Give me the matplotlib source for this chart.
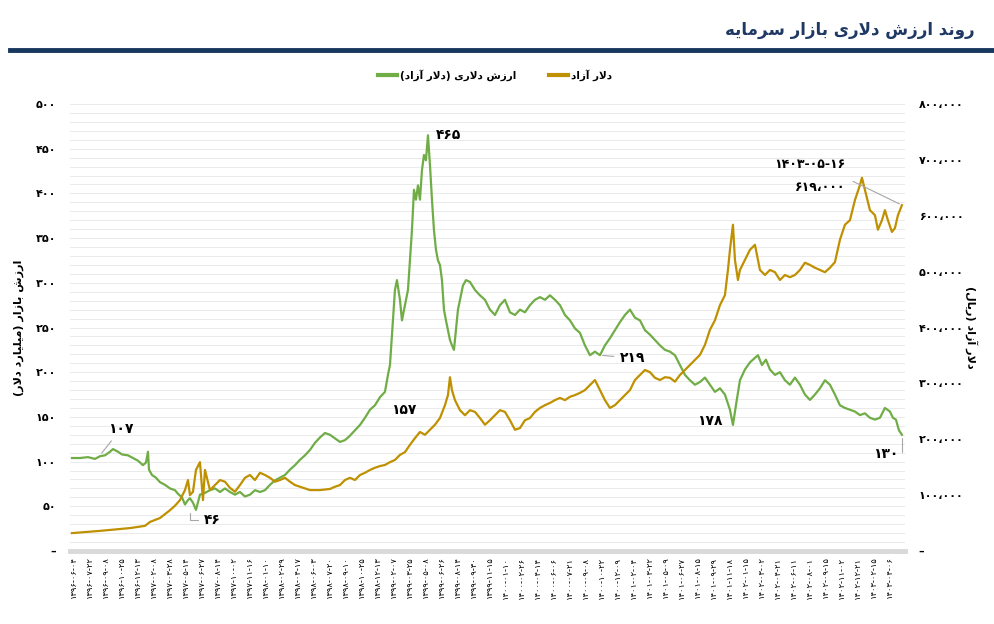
import matplotlib
matplotlib.use("Agg")
import matplotlib.pyplot as plt
from matplotlib.ticker import FuncFormatter, MultipleLocator
from matplotlib.lines import Line2D

# sample index (roughly every 3 calendar days) and values
green_t = [0, 8, 16, 23, 28, 33, 38, 41, 46, 50, 56, 61, 66, 71, 74, 76, 77, 80, 84, 88,
           93, 98, 103, 106, 110, 113, 116, 118, 121, 124, 128, 133, 138, 143, 148, 153, 158, 163, 168, 173,
           178, 183, 188, 193, 198, 203, 208, 213, 218, 223, 228, 233, 238, 243, 248, 253, 258, 263, 268, 273,
           278, 283, 288, 293, 298, 303, 308, 313, 316, 318, 321, 323, 325, 328, 330, 333, 336, 338, 340, 342,
           344, 346, 348, 350, 352, 354, 356, 358, 360, 362, 364, 366, 368, 370, 372, 374, 376, 378, 380, 382,
           384, 386, 388, 391, 394, 398, 403, 408, 413, 418, 423, 428, 433, 438, 443, 448, 453, 458, 463, 468,
           473, 478, 483, 488, 493, 498, 503, 508, 513, 518, 523, 528, 533, 538, 543, 548, 553, 558, 563, 568,
           573, 578, 583, 588, 593, 598, 603, 608, 613, 618, 623, 628, 633, 638, 643, 648, 653, 658, 661, 664,
           668, 673, 678, 683, 686, 690, 694, 698, 703, 708, 713, 718, 723, 728, 733, 738, 743, 748, 753, 758,
           763, 768, 773, 778, 783, 788, 793, 798, 803, 808, 813, 818, 821, 824, 827, 830]
green_val = [104, 104, 105, 103, 106, 107, 111, 114, 111, 108, 107, 104, 101, 96, 99, 111, 91, 85, 82, 77,
             74, 70, 68, 64, 60, 52, 57, 59, 54, 46, 63, 65, 68, 70, 66, 70, 66, 63, 66, 61,
             63, 68, 66, 68, 74, 79, 82, 85, 91, 96, 102, 107, 113, 121, 127, 132, 130, 126, 122, 124,
             129, 135, 141, 149, 158, 163, 172, 178, 197, 208, 258, 292, 303, 281, 258, 275, 292, 325, 359, 404,
             393, 409, 393, 426, 443, 437, 465, 432, 393, 359, 337, 325, 320, 303, 270, 258, 247, 236, 230, 225,
             247, 270, 281, 297, 303, 301, 292, 286, 281, 270, 264, 275, 281, 267, 264, 270, 267, 275, 281, 284,
             281, 286, 281, 275, 264, 258, 249, 244, 230, 219, 223, 219, 230, 238, 247, 256, 264, 270, 261, 258,
             247, 242, 236, 230, 225, 223, 219, 208, 197, 191, 186, 189, 194, 186, 178, 182, 175, 158, 141, 163,
             191, 203, 211, 216, 219, 208, 214, 203, 197, 200, 191, 186, 194, 186, 175, 169, 175, 182, 191, 186,
             175, 163, 160, 158, 156, 152, 154, 149, 147, 149, 160, 156, 149, 147, 135, 130]

gold_t = [0, 28, 58, 73, 78, 88, 98, 103, 108, 113, 116, 118, 121, 124, 128, 131, 133, 138, 143, 148,
          153, 158, 163, 168, 173, 178, 183, 188, 193, 198, 203, 208, 213, 218, 223, 228, 238, 248, 258, 263,
          268, 273, 278, 283, 288, 293, 298, 303, 308, 313, 318, 323, 328, 333, 338, 343, 348, 353, 358, 363,
          368, 373, 376, 378, 380, 383, 388, 393, 398, 403, 408, 413, 418, 423, 428, 433, 438, 443, 448, 453,
          458, 463, 468, 473, 478, 483, 488, 493, 498, 503, 508, 513, 518, 523, 528, 533, 538, 543, 548, 553,
          558, 563, 568, 573, 578, 583, 588, 593, 598, 603, 608, 613, 618, 623, 628, 633, 638, 643, 648, 653,
          656, 658, 661, 663, 666, 668, 673, 678, 683, 688, 693, 698, 703, 708, 713, 718, 723, 728, 733, 738,
          743, 748, 753, 758, 763, 768, 773, 778, 783, 788, 790, 793, 798, 803, 806, 810, 813, 816, 820, 823,
          826, 830]
gold_val = [32000, 36000, 41000, 45000, 52000, 59000, 73000, 81000, 91000, 109000, 127000, 100000, 106000, 145000, 159000, 91000, 145000, 109000, 118000, 127000,
            124000, 113000, 106000, 118000, 131000, 136000, 127000, 140000, 136000, 131000, 124000, 127000, 131000, 124000, 118000, 115000, 109000, 109000, 111000, 115000,
            118000, 127000, 131000, 127000, 136000, 140000, 145000, 149000, 152000, 154000, 159000, 163000, 172000, 177000, 190000, 202000, 213000, 208000, 217000, 226000,
            238000, 261000, 279000, 311000, 288000, 270000, 252000, 243000, 252000, 249000, 238000, 226000, 234000, 243000, 252000, 249000, 234000, 217000, 220000, 234000,
            238000, 249000, 256000, 261000, 265000, 270000, 274000, 270000, 276000, 279000, 283000, 288000, 297000, 306000, 288000, 270000, 256000, 261000, 270000, 279000,
            288000, 306000, 315000, 324000, 320000, 310000, 306000, 311000, 310000, 303000, 315000, 324000, 333000, 342000, 351000, 369000, 396000, 413000, 440000, 458000,
            503000, 539000, 584000, 521000, 485000, 503000, 521000, 539000, 548000, 503000, 494000, 503000, 499000, 485000, 494000, 490000, 494000, 503000, 516000, 512000,
            507000, 503000, 499000, 507000, 517000, 557000, 584000, 592000, 628000, 655000, 668000, 646000, 610000, 601000, 575000, 592000, 610000, 592000, 571000, 578000,
            601000, 619000]

date_labels = ["1396-06-04", "1396-07-22", "1396-09-08", "1396-10-25", "1396-12-13", "1397-02-08",
               "1397-03-28", "1397-05-14", "1397-06-27", "1397-08-14", "1397-10-02", "1397-11-16",
               "1398-01-10", "1398-02-29", "1398-04-17", "1398-06-03", "1398-07-20", "1398-09-10",
               "1398-10-25", "1398-12-13", "1399-02-07", "1399-03-25", "1399-05-08", "1399-06-26",
               "1399-08-14", "1399-09-30", "1399-11-15", "1400-01-10", "1400-02-26", "1400-04-14",
               "1400-06-06", "1400-07-21", "1400-09-08", "1400-10-22", "1400-12-09", "1401-02-04",
               "1401-03-22", "1401-05-09", "1401-06-27", "1401-08-15", "1401-09-29", "1401-11-18",
               "1402-01-15", "1402-03-02", "1402-04-21", "1402-06-11", "1402-08-01", "1402-09-15",
               "1402-11-02", "1402-12-21", "1403-02-15", "1403-04-06"]
last_date = "1403-05-16"

GREEN = "#70AD47"
GOLD = "#BF9000"
NAVY = "#17375E"

# --- minimal Persian shaping (matplotlib has no complex text layout) ---
FORMS = {  # isolated, final, initial, medial
    "ا": ("\uFE8D", "\uFE8E", None, None),
    "آ": ("\uFE81", "\uFE82", None, None),
    "ب": ("\uFE8F", "\uFE90", "\uFE91", "\uFE92"),
    "د": ("\uFEA9", "\uFEAA", None, None),
    "ر": ("\uFEAD", "\uFEAE", None, None),
    "ز": ("\uFEAF", "\uFEB0", None, None),
    "س": ("\uFEB1", "\uFEB2", "\uFEB3", "\uFEB4"),
    "ش": ("\uFEB5", "\uFEB6", "\uFEB7", "\uFEB8"),
    "ل": ("\uFEDD", "\uFEDE", "\uFEDF", "\uFEE0"),
    "م": ("\uFEE1", "\uFEE2", "\uFEE3", "\uFEE4"),
    "ن": ("\uFEE5", "\uFEE6", "\uFEE7", "\uFEE8"),
    "و": ("\uFEED", "\uFEEE", None, None),
    "ه": ("\uFEE9", "\uFEEA", "\uFEEB", "\uFEEC"),
    "ی": ("\uFEEF", "\uFEF0", "\uFEF3", "\uFEF4"),
}
LAM_ALEF = {"ا": ("\uFEFB", "\uFEFC"), "آ": ("\uFEF5", "\uFEF6")}


def shape(text):
    def dual(c):
        return c in FORMS and FORMS[c][2] is not None
    out, i = [], 0
    while i < len(text):
        c = text[i]
        if c not in FORMS:
            out.append(c)
            i += 1
            continue
        prev_j = i > 0 and dual(text[i - 1])
        if c == "ل" and i + 1 < len(text) and text[i + 1] in LAM_ALEF:
            iso, fin = LAM_ALEF[text[i + 1]]
            out.append(fin if prev_j else iso)
            i += 2
            continue
        iso, fin, ini, med = FORMS[c]
        nxt = ini is not None and i + 1 < len(text) and text[i + 1] in FORMS
        if prev_j and nxt:
            out.append(med)
        elif prev_j:
            out.append(fin)
        elif nxt:
            out.append(ini)
        else:
            out.append(iso)
        i += 1
    mirror = {"(": ")", ")": "("}
    return "".join(mirror.get(ch, ch) for ch in reversed(out))


FA = str.maketrans("0123456789,", "۰۱۲۳۴۵۶۷۸۹،")


def fa(s):
    return str(s).translate(FA)


plt.rcParams["font.family"] = ["DejaVu Sans"]

fig = plt.figure(figsize=(9.94, 6.24), dpi=100)
ax = fig.add_axes([0.0704, 0.117, 0.840, 0.7163])
ax2 = ax.twinx()

ax.plot(green_t, green_val, color=GREEN, lw=1.6, zorder=3)
ax2.plot(gold_t, gold_val, color=GOLD, lw=1.6, zorder=3)

ax.set_xlim(-2, 833)
ax.set_ylim(0, 500)
ax2.set_ylim(0, 800000)

ax.yaxis.set_major_locator(MultipleLocator(50))
ax.yaxis.set_minor_locator(MultipleLocator(10))
ax2.yaxis.set_major_locator(MultipleLocator(100000))
ax.grid(which="both", axis="y", color="#e6e6e6", lw=0.6)
ax.set_axisbelow(True)

ax.yaxis.set_major_formatter(FuncFormatter(lambda v, p: "–" if v == 0 else fa(int(v))))
ax2.yaxis.set_major_formatter(FuncFormatter(lambda v, p: "–" if v == 0 else fa(f"{int(v):,}")))
for a in (ax, ax2):
    a.tick_params(axis="y", which="both", length=0, pad=10, labelsize=8)
    for lab in a.get_yticklabels():
        lab.set_fontweight("bold")
    for s in a.spines.values():
        s.set_visible(False)
ax.spines["bottom"].set_visible(True)
ax.spines["bottom"].set_color("#d9d9d9")
ax.spines["bottom"].set_linewidth(3.5)

ax.set_xticks([1 + 16 * i for i in range(len(date_labels))])
ax.set_xticklabels([fa(d) for d in date_labels], rotation=90, fontsize=6)
ax.tick_params(axis="x", length=0, pad=4)

ax.set_ylabel(shape("ارزش بازار (میلیارد دلار)"), fontsize=8, fontweight="bold", labelpad=8)
ax2.set_ylabel(shape("دلار آزاد (ریال)"), fontsize=8, fontweight="bold", rotation=270, labelpad=10)

# annotations
bold = dict(fontsize=10, fontweight="bold", color="black")
leader = dict(arrowstyle="-", color="#a6a6a6", lw=0.8)
i_max = green_val.index(max(green_val))
ax.annotate(fa(round(green_val[i_max])), (green_t[i_max], green_val[i_max]),
            xytext=(6, 0), textcoords="offset points", ha="left", va="center", **bold)
ax.annotate(fa(107), (green_t[4], 107), xytext=(15, 19), textcoords="offset points",
            ha="center", va="center", arrowprops=leader, **bold)
i_min = green_val.index(46)
ax.annotate(fa(46), (green_t[i_min] - 6, green_val[i_min]), xytext=(10, -7), textcoords="offset points",
            ha="left", va="center", arrowprops=dict(leader, connectionstyle="angle,angleA=0,angleB=90,rad=0"), **bold)
ax.annotate(fa(157), (green_t[64], green_val[64]), xytext=(24, 0), textcoords="offset points",
            ha="center", va="center", **bold)
i219 = green_t.index(528)
ax.annotate(fa(219), (green_t[i219], green_val[i219]), xytext=(14, -2), textcoords="offset points",
            ha="left", va="center", arrowprops=leader, **bold)
i178 = green_t.index(643)
ax.annotate(fa(178), (green_t[i178], green_val[i178]), xytext=(-4, -21), textcoords="offset points",
            ha="center", va="center", **bold)
ax.annotate(fa(round(green_val[-1])), (green_t[-1], green_val[-1]), xytext=(-12, -14), textcoords="offset points",
            ha="center", va="center",
            arrowprops=dict(leader, connectionstyle="angle,angleA=0,angleB=90,rad=0"), **bold)
ax2.annotate("", (gold_t[-1], gold_val[-1]), xytext=(-37, 18), textcoords="offset points",
             arrowprops=leader)
ax2.annotate(fa(last_date), (gold_t[-1], gold_val[-1]), xytext=(-66, 29), textcoords="offset points",
             ha="center", va="center", fontsize=9, fontweight="bold")
ax2.annotate(fa(f"{gold_val[-1]:,}"), (gold_t[-1], gold_val[-1]), xytext=(-59, 13), textcoords="offset points",
             ha="center", va="center", fontsize=9, fontweight="bold")

# legend
handles = [Line2D([], [], color=GREEN, lw=3), Line2D([], [], color=GOLD, lw=3)]
labels = [shape("ارزش دلاری (دلار آزاد)"), shape("دلار آزاد")]
fig.legend(handles, labels, loc="center", bbox_to_anchor=(0.498, 0.88), ncol=2, frameon=False,
           prop=dict(size=7.5, weight="bold"), handlelength=1.8, columnspacing=3.2, handletextpad=0.3)

# title and rule
fig.text(0.981, 0.952, shape("روند ارزش دلاری بازار سرمایه"), ha="right", va="center",
         fontsize=12, fontweight="bold", color="#1F3864")
fig.add_artist(Line2D([0.01, 1.0], [0.92, 0.92], color=NAVY, lw=3.5, transform=fig.transFigure))

fig.savefig("out.png", dpi=100)
